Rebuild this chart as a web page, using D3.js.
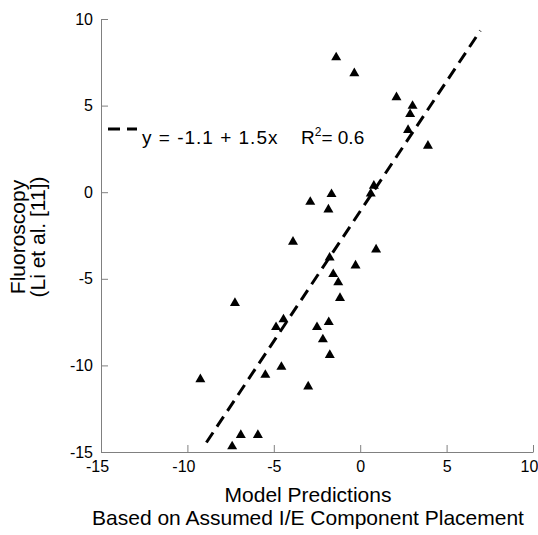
<!DOCTYPE html>
<html>
<head>
<meta charset="utf-8">
<script src="https://cdn.jsdelivr.net/npm/d3@7"></script>
<style>
  body { margin: 0; background: #fff; overflow: hidden; }
  svg { display: block; }
</style>
</head>
<body>
<div id="chart"></div>
<script>
// model predictions (x) vs fluoroscopy (y)
const xPred = [-1.39, -0.34, 2.10, 3.03, 2.89, 2.77, 3.92, 0.79, 0.61, -1.66,
  -2.89, -1.84, -3.89, 0.92, -1.77, -0.27, -1.56, -1.27, -1.17, -7.25,
  -4.44, -4.87, -1.82, -2.50, -2.16, -1.76, -4.56, -5.49, -9.25, -3.01,
  -6.91, -5.92, -7.41];
const yFluoro = [7.86, 6.95, 5.56, 5.06, 4.59, 3.67, 2.76, 0.45, 0.0, -0.03,
  -0.48, -0.92, -2.78, -3.23, -3.7, -4.15, -4.65, -5.13, -6.03, -6.32,
  -7.26, -7.71, -7.42, -7.71, -8.42, -9.32, -10.01, -10.47, -10.72, -11.14,
  -13.94, -13.94, -14.6];

// linear fit
const fitIntercept = -1.1;
const fitSlope = 1.5;
const fitRange = [-8.9, 6.95];

const xTicks = [-15, -10, -5, 0, 5, 10];
const yTicks = [-15, -10, -5, 0, 5, 10];

const width = 538;
const height = 535;
const margin = { top: 19, right: 5, bottom: 83, left: 101 };
const innerWidth = width - margin.left - margin.right;
const innerHeight = height - margin.top - margin.bottom;

const fontFamily = `Arial, 'Liberation Sans', sans-serif`;
const axisGrey = '#808080';

const svg = d3.select('#chart')
    .append('svg')
    .attr('width', width)
    .attr('height', height);

const g = svg.append('g')
    .attr('transform', `translate(${margin.left},${margin.top})`);

const xScale = d3.scaleLinear().domain([-15, 10]).range([0, innerWidth]);
const yScale = d3.scaleLinear().domain([-15, 10]).range([innerHeight, 0]);

// axes, ticks pointing inward, plain hyphen for minus
const xAxis = g.append('g')
    .attr('transform', `translate(0,${innerHeight})`)
    .call(d3.axisBottom(xScale).tickValues(xTicks).tickFormat(d => String(d))
        .tickSizeInner(-7).tickSizeOuter(0).tickPadding(9));

const yAxis = g.append('g')
    .call(d3.axisLeft(yScale).tickValues(yTicks).tickFormat(d => String(d))
        .tickSizeInner(-7).tickSizeOuter(0).tickPadding(8));

[xAxis, yAxis].forEach(ax => {
    ax.select('.domain').attr('stroke', axisGrey);
    ax.selectAll('.tick line').attr('stroke', axisGrey);
    ax.selectAll('.tick text')
        .attr('fill', 'black')
        .style('font', `16px ${fontFamily}`);
});
// two-digit labels sit a little left of their tick in the original
xAxis.selectAll('.tick text').attr('dx', d => Math.abs(d) >= 10 ? -4 : 0);

// fit line
const fitLine = d3.line()
    .x(d => xScale(d))
    .y(d => yScale(fitIntercept + fitSlope * d));

g.append('path')
    .datum(fitRange)
    .attr('d', fitLine)
    .attr('fill', 'none')
    .attr('stroke', 'black')
    .attr('stroke-width', 3)
    .attr('stroke-dasharray', '12,7');

// triangles
const tri = 'M0,-4.3L5,4.3L-5,4.3Z';
g.selectAll('.pt')
    .data(d3.range(xPred.length))
    .join('path')
    .attr('class', 'pt')
    .attr('d', tri)
    .attr('transform', i => `translate(${xScale(xPred[i])},${yScale(yFluoro[i])})`)
    .attr('fill', 'black');

// legend
svg.append('line')
    .attr('x1', 108).attr('x2', 137)
    .attr('y1', 129).attr('y2', 129)
    .attr('stroke', 'black')
    .attr('stroke-width', 3)
    .attr('stroke-dasharray', '12,7');

svg.append('text')
    .attr('x', 142)
    .attr('y', 144)
    .style('font', `19px ${fontFamily}`)
    .style('letter-spacing', '1px')
    .text(`y = ${fitIntercept} + ${fitSlope}x`);

const r2 = svg.append('text')
    .attr('x', 301)
    .attr('y', 144)
    .style('font', `19px ${fontFamily}`);
r2.append('tspan').text('R');
r2.append('tspan').attr('dy', -8).style('font-size', '12px').text('2');
r2.append('tspan').attr('dy', 8).text('= 0.6');

// axis titles
const xTitle = svg.append('text')
    .attr('text-anchor', 'middle')
    .style('font', `21px ${fontFamily}`)
    .attr('fill', 'black');
xTitle.append('tspan').attr('x', 308).attr('y', 502).text('Model Predictions');
xTitle.append('tspan').attr('x', 308).attr('y', 525).text('Based on Assumed I/E Component Placement');

const yTitle = svg.append('text')
    .attr('text-anchor', 'middle')
    .attr('transform', 'rotate(-90)')
    .style('font', `21px ${fontFamily}`)
    .attr('fill', 'black');
yTitle.append('tspan').attr('x', -237).attr('y', 25).text('Fluoroscopy');
yTitle.append('tspan').attr('x', -237).attr('y', 45).text('(Li et al. [11])');
</script>
</body>
</html>
